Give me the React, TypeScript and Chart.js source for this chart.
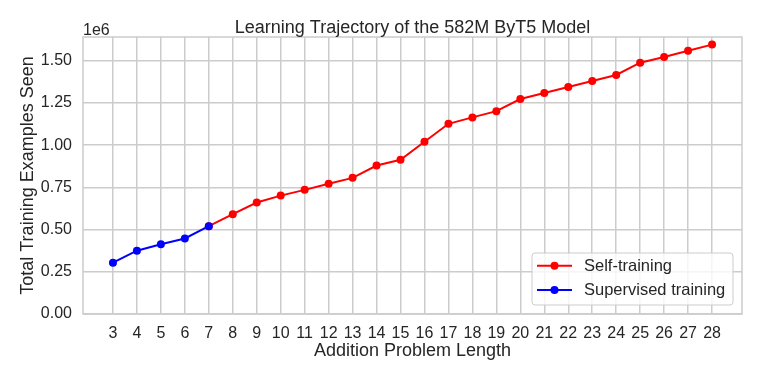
import React, { useEffect, useRef } from "react";
import { Chart, registerables } from "chart.js";

Chart.register(...registerables);

// Data (y values in units of 1e6 examples)
const supervisedLengths = [3, 4, 5, 6, 7];
const supervisedExamples = [0.304, 0.375, 0.413, 0.447, 0.52];
const selfLengths = [7, 8, 9, 10, 11, 12, 13, 14, 15, 16, 17, 18, 19, 20, 21, 22, 23, 24, 25, 26, 27, 28];
const selfExamples = [
  0.52, 0.591, 0.66, 0.701, 0.735, 0.771, 0.806, 0.879, 0.913, 1.02, 1.126,
  1.164, 1.201, 1.273, 1.308, 1.344, 1.379, 1.415, 1.488, 1.522, 1.559, 1.595,
];
const xTickValues = [3, 4, 5, 6, 7, 8, 9, 10, 11, 12, 13, 14, 15, 16, 17, 18, 19, 20, 21, 22, 23, 24, 25, 26, 27, 28];
const yTickValues = [0, 0.25, 0.5, 0.75, 1.0, 1.25, 1.5];
const titleText = "Learning Trajectory of the 582M ByT5 Model";
const xTitle = "Addition Problem Length";
const yTitle = "Total Training Examples Seen";
const offsetText = "1e6";
const seriesLabels = ["Self-training", "Supervised training"];

const FONT = '"Liberation Sans", Arial, Helvetica, sans-serif';
const GRID = "#cccccc";
const TEXT = "#262626";

const decorPlugin = {
  id: "decor",
  beforeDatasetsDraw(chart: any) {
    const { ctx, chartArea } = chart;
    ctx.save();
    ctx.strokeStyle = GRID;
    ctx.lineWidth = 1.5;
    ctx.strokeRect(chartArea.left, chartArea.top, chartArea.right - chartArea.left, chartArea.bottom - chartArea.top);
    ctx.restore();
  },
  afterDraw(chart: any) {
    const { ctx, chartArea } = chart;
    ctx.save();
    // title
    ctx.fillStyle = TEXT;
    ctx.font = `18px ${FONT}`;
    ctx.textAlign = "center";
    ctx.textBaseline = "alphabetic";
    ctx.fillText(titleText, (chartArea.left + chartArea.right) / 2, 32.5);
    // offset text
    ctx.font = `16px ${FONT}`;
    ctx.textAlign = "left";
    ctx.fillText(offsetText, chartArea.left, 34.5);

    // legend
    const datasets = chart.data.datasets;
    const bx = 532, by = 253, bw = 201, bh = 52;
    ctx.beginPath();
    if ((ctx as any).roundRect) (ctx as any).roundRect(bx, by, bw, bh, 3);
    else ctx.rect(bx, by, bw, bh);
    ctx.fillStyle = "rgba(255,255,255,0.8)";
    ctx.fill();
    ctx.strokeStyle = GRID;
    ctx.lineWidth = 1;
    ctx.stroke();
    const rows = [265.7, 290];
    datasets.forEach((ds: any, i: number) => {
      const y = rows[i];
      ctx.strokeStyle = ds.borderColor;
      ctx.lineWidth = 2;
      ctx.beginPath();
      ctx.moveTo(537, y);
      ctx.lineTo(572, y);
      ctx.stroke();
      ctx.fillStyle = ds.borderColor;
      ctx.beginPath();
      ctx.arc(554.5, y, 4, 0, Math.PI * 2);
      ctx.fill();
      ctx.fillStyle = TEXT;
      ctx.font = `16.5px ${FONT}`;
      ctx.textAlign = "left";
      ctx.textBaseline = "middle";
      ctx.fillText(ds.label, 584, y + 0.5);
    });
    ctx.restore();
  },
};

export default function App() {
  const ref = useRef<HTMLCanvasElement | null>(null);

  useEffect(() => {
    document.body.style.margin = "0";
    const canvas = ref.current;
    if (!canvas) return;
    const chart = new Chart(canvas, {
      type: "line",
      data: {
        datasets: [
          {
            label: seriesLabels[0],
            data: selfLengths.map((x, i) => ({ x, y: selfExamples[i] })),
            borderColor: "#ff0000",
            backgroundColor: "#ff0000",
            borderWidth: 2,
            pointRadius: 4,
            pointBorderWidth: 0,
            tension: 0,
            order: 2,
          },
          {
            label: seriesLabels[1],
            data: supervisedLengths.map((x, i) => ({ x, y: supervisedExamples[i] })),
            borderColor: "#0000ff",
            backgroundColor: "#0000ff",
            borderWidth: 2,
            pointRadius: 4,
            pointBorderWidth: 0,
            tension: 0,
            order: 1,
          },
        ],
      },
      options: {
        responsive: false,
        animation: false,
        layout: { padding: { top: 37, right: 19, left: 0, bottom: 0 } },
        plugins: {
          legend: { display: false },
          title: { display: false },
          tooltip: { enabled: false },
        },
        scales: {
          x: {
            type: "linear",
            min: 1.75,
            max: 29.25,
            afterFit: (s: any) => {
              s.height = 67;
            },
            afterBuildTicks: (s: any) => {
              s.ticks = xTickValues.map((v) => ({ value: v }));
            },
            grid: { color: GRID, lineWidth: 1.5, drawTicks: false },
            border: { display: false },
            ticks: {
              color: TEXT,
              font: { family: FONT, size: 16 },
              padding: 10,
              maxRotation: 0,
              autoSkip: false,
              callback: (v: any) => String(v),
            },
            title: {
              display: true,
              text: xTitle,
              color: TEXT,
              font: { family: FONT, size: 18 },
              padding: { top: 0, bottom: 19 },
            },
          },
          y: {
            type: "linear",
            min: 0,
            max: 1.64,
            afterFit: (s: any) => {
              s.width = 83;
            },
            afterBuildTicks: (s: any) => {
              s.ticks = yTickValues.map((v) => ({ value: v }));
            },
            grid: { color: GRID, lineWidth: 1.5, drawTicks: false },
            border: { display: false },
            ticks: {
              color: TEXT,
              font: { family: FONT, size: 16 },
              padding: 11,
              callback: (v: any) => Number(v).toFixed(2),
            },
            title: {
              display: true,
              text: yTitle,
              color: TEXT,
              font: { family: FONT, size: 18 },
              padding: { top: 17, bottom: 0 },
            },
          },
        },
      },
      plugins: [decorPlugin],
    });
    return () => chart.destroy();
  }, []);

  return (
    <div style={{ width: 761, height: 381, background: "#fff" }}>
      <canvas ref={ref} width={761} height={381} style={{ display: "block" }} />
    </div>
  );
}
